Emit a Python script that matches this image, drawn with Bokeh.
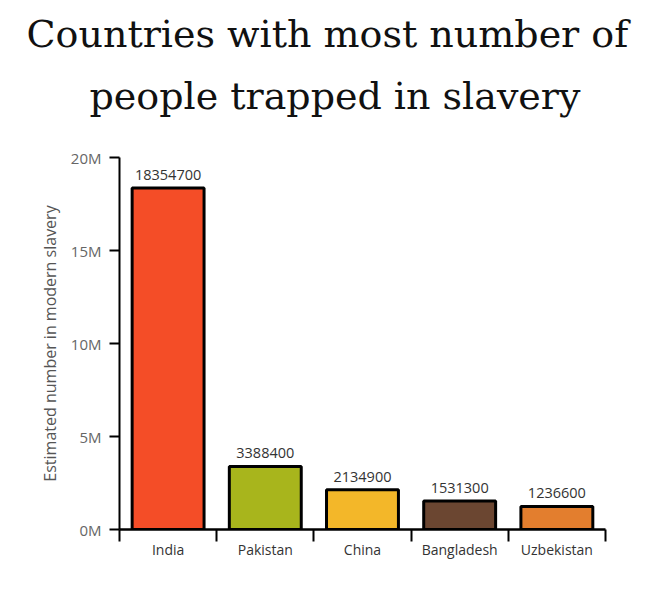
from bokeh.plotting import figure
from bokeh.models import ColumnDataSource, Range1d, FixedTicker, LinearAxis, Title
from bokeh.core.properties import value
from bokeh.embed import file_html
from bokeh.resources import INLINE

title_lines = ["Countries with most number of", "people trapped in slavery"]
countries = ["India", "Pakistan", "China", "Bangladesh", "Uzbekistan"]
counts = [18354700, 3388400, 2134900, 1531300, 1236600]
colors = ["#F44D27", "#A8B51C", "#F3B729", "#6B4631", "#E37E2E"]
y_ticks = [0, 5000000, 10000000, 15000000, 20000000]
y_tick_labels = ["0M", "5M", "10M", "15M", "20M"]

pos = [i + 0.5 for i in range(len(countries))]
src = ColumnDataSource(dict(x=pos, top=counts, color=colors,
                            label=[str(c) for c in counts]))

p = figure(width=670, height=613, output_backend="svg", toolbar_location=None,
           x_range=Range1d(0, 5.34), y_range=Range1d(0, 20000000),
           x_axis_type=None, y_axis_type=None, title=None,
           min_border_left=119, min_border_right=32, min_border_top=0,
           min_border_bottom=84)
p.outline_line_color = None
p.background_fill_color = "white"
p.border_fill_color = "white"

# title: line 2 (closest to the frame), line 1, then a blank spacer on top
for line, so, off in [(title_lines[1], 79, -30), (title_lines[0], -47, -93),
                      (" ", -14, 0)]:
    t = Title(text=line, text_font="DejaVu Serif", text_font_size="38px",
              text_font_style="normal", text_color="#111111", align="left",
              offset=off, standoff=so)
    p.add_layout(t, "above")

p.vbar(x="x", top="top", width=0.74, bottom=0, fill_color="color",
       line_color="black", line_width=3, source=src)
p.text(x="x", y="top", text="label", source=src, text_align="center",
       text_baseline="bottom", y_offset=-8, text_font=value("Open Sans"),
       text_font_size="14.5px", text_color="#333333")

yax = LinearAxis(ticker=FixedTicker(ticks=y_ticks),
                 major_label_overrides={t: l for t, l in zip(y_ticks, y_tick_labels)})
yax.axis_label = "Estimated number in modern slavery"
yax.axis_label_text_font = "Open Sans"
yax.axis_label_text_font_style = "normal"
yax.axis_label_text_font_size = "16px"
yax.axis_label_text_color = "#555555"
yax.axis_label_standoff = 7
yax.major_label_text_font = "Open Sans"
yax.major_label_text_font_size = "15px"
yax.major_label_text_color = "#666666"
yax.axis_line_color = "black"
yax.axis_line_width = 2
yax.major_tick_line_color = "black"
yax.major_tick_line_width = 2
yax.major_tick_out = 10
yax.major_tick_in = 0
yax.minor_tick_line_color = None
yax.major_label_standoff = 8
p.add_layout(yax, "left")

xax = LinearAxis(ticker=FixedTicker(ticks=pos, minor_ticks=list(range(6))),
                 major_label_overrides={x: c for x, c in zip(pos, countries)},
                 bounds=(0, 5))
xax.axis_line_color = "black"
xax.axis_line_width = 2.5
xax.major_tick_line_color = None
xax.major_tick_out = 0
xax.major_tick_in = 0
xax.minor_tick_line_color = "black"
xax.minor_tick_line_width = 2
xax.minor_tick_out = 12
xax.minor_tick_in = 0
xax.major_label_text_font = "Open Sans"
xax.major_label_text_font_size = "14px"
xax.major_label_text_color = "#333333"
xax.major_label_standoff = -2
p.add_layout(xax, "below")

p.xgrid.visible = False
p.ygrid.ticker = FixedTicker(ticks=y_ticks)
p.ygrid.grid_line_color = "#cccccc"
p.ygrid.grid_line_width = 1

open("out.html", "w").write(file_html(p, INLINE))
